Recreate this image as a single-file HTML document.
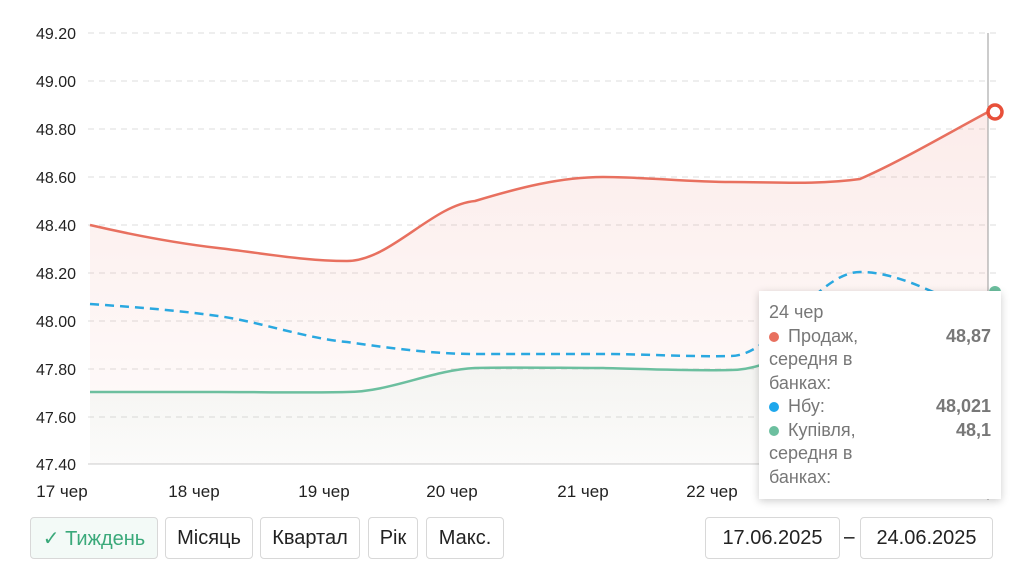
<!DOCTYPE html><html><head><meta charset="utf-8"><style>
body{margin:0;width:1024px;height:584px;background:#fff;font-family:"Liberation Sans",sans-serif;position:relative;overflow:hidden}
.b{position:absolute;top:517px;height:42px;border:1px solid #d8d8d8;border-radius:4px;background:#fff;font-size:20px;color:#222;display:flex;align-items:center;justify-content:center;box-sizing:border-box}
.tt{position:absolute;left:759px;top:291px;width:242px;height:208px;background:#fff;box-shadow:0 2px 8px rgba(0,0,0,.2);font-size:18px;color:#777;box-sizing:border-box;padding:10px 10px;line-height:23.5px}
.r{display:flex;justify-content:space-between}.r b{color:#777}
.d{display:inline-block;width:10px;height:10px;border-radius:50%;margin-right:9px}
</style></head><body>
<svg width="1024" height="584" style="position:absolute;left:0;top:0" font-family="Liberation Sans" font-size="16" fill="#222">
<defs>
<linearGradient id="gr" x1="0" y1="0" x2="0" y2="1"><stop offset="0" stop-color="#e8766a" stop-opacity=".14"/><stop offset="1" stop-color="#e8766a" stop-opacity=".02"/></linearGradient>
<linearGradient id="gg" x1="0" y1="0" x2="0" y2="1"><stop offset="0" stop-color="#6cc0a0" stop-opacity=".1"/><stop offset="1" stop-color="#6cc0a0" stop-opacity=".02"/></linearGradient>
</defs>
<g stroke="#ddd" stroke-dasharray="6,5">
<line x1="88" x2="1000" y1="33" y2="33"/><line x1="88" x2="1000" y1="81" y2="81"/><line x1="88" x2="1000" y1="129" y2="129"/><line x1="88" x2="1000" y1="177" y2="177"/><line x1="88" x2="1000" y1="225" y2="225"/><line x1="88" x2="1000" y1="273" y2="273"/><line x1="88" x2="1000" y1="321" y2="321"/><line x1="88" x2="1000" y1="369" y2="369"/><line x1="88" x2="1000" y1="417" y2="417"/></g>
<line x1="88" x2="1000" y1="464" y2="464" stroke="#ccc"/>
<g text-anchor="end"><text x="76" y="39">49.20</text><text x="76" y="87">49.00</text><text x="76" y="135">48.80</text><text x="76" y="183">48.60</text><text x="76" y="231">48.40</text><text x="76" y="279">48.20</text><text x="76" y="327">48.00</text><text x="76" y="375">47.80</text><text x="76" y="423">47.60</text><text x="76" y="470">47.40</text></g>
<g text-anchor="middle" font-size="17"><text x="62" y="497">17 чер</text><text x="194" y="497">18 чер</text><text x="324" y="497">19 чер</text><text x="452" y="497">20 чер</text><text x="583" y="497">21 чер</text><text x="712" y="497">22 чер</text></g>
<path d="M90,225 C133,235 175,243 218,248 C261,253 304,261 347,261 C390,261 432,205 475,201 C518,188 560,177 603,177 C646,177 688,182 731,182 C774,182 817,185 860,179 C903,160 945,135 988,112 L988,464 L90,464Z" fill="url(#gr)"/>
<path d="M90,392 C133,392 175,392 218,392 C261,392 304,393 347,392 C390,392 432,370 475,368 C518,367 560,368 603,368 C646,369 688,371 731,370 C774,370 817,335 860,325 C903,315 945,300 988,296 L988,464 L90,464Z" fill="url(#gg)"/>
<path d="M90,225 C133,235 175,243 218,248 C261,253 304,261 347,261 C390,261 432,205 475,201 C518,188 560,177 603,177 C646,177 688,182 731,182 C774,182 817,185 860,179 C903,160 945,135 988,112" fill="none" stroke="#e8705f" stroke-width="2.5"/>
<path d="M90,304 C133,307 175,310 218,316 C261,322 304,338 347,342 C390,348 432,354 475,354 C518,354 560,354 603,354 C646,354 688,357 731,356 C774,356 817,272 860,272 C903,272 945,300 988,316" fill="none" stroke="#2aa8e0" stroke-width="2.5" stroke-dasharray="9,6"/>
<path d="M90,392 C133,392 175,392 218,392 C261,392 304,393 347,392 C390,392 432,370 475,368 C518,367 560,368 603,368 C646,369 688,371 731,370 C774,370 817,335 860,325 C903,315 945,300 988,296" fill="none" stroke="#6cbf9f" stroke-width="2.5"/>
<line x1="988" x2="988" y1="33" y2="500" stroke="#999"/>
<circle cx="995" cy="112" r="7" fill="#fff" stroke="#e8503a" stroke-width="3.5"/>
<circle cx="995" cy="292" r="6" fill="#6cbf9f"/>
</svg>
<div class="tt"><div>24 чер</div>
<div class="r"><span><span class="d" style="background:#e8705f"></span>Продаж,<br>середня в<br>банках:</span><b>48,87</b></div>
<div class="r"><span><span class="d" style="background:#1ea7ec"></span>Нбу:</span><b>48,021</b></div>
<div class="r"><span><span class="d" style="background:#6cbf9f"></span>Купівля,<br>середня в<br>банках:</span><b>48,1</b></div></div>
<div class="b" style="left:30px;width:128px;background:#f3faf7;color:#3aa97a">✓ Тиждень</div>
<div class="b" style="left:165px;width:88px">Місяць</div>
<div class="b" style="left:260px;width:100px">Квартал</div>
<div class="b" style="left:368px;width:50px">Рік</div>
<div class="b" style="left:426px;width:78px">Макс.</div>
<div class="b" style="left:705px;width:135px">17.06.2025</div>
<div style="position:absolute;left:844px;top:527px;font-size:19px">–</div>
<div class="b" style="left:860px;width:133px">24.06.2025</div>
</body></html>
